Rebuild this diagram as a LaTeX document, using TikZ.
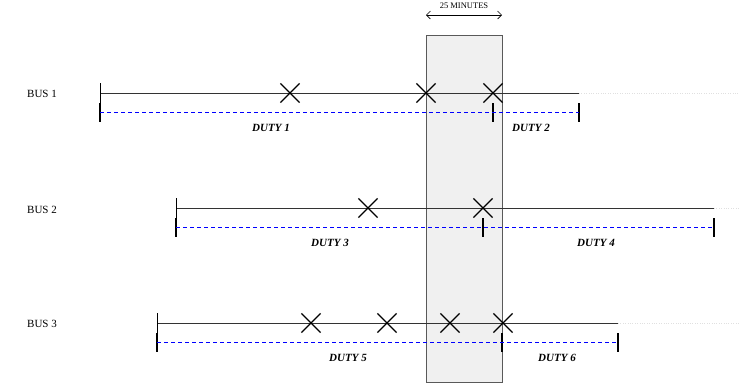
\documentclass[tikz,border=0pt]{standalone}
\usepackage{fontspec}
\setmainfont{Liberation Serif}
\usetikzlibrary{arrows.meta, shapes.misc}

\begin{document}
\begin{tikzpicture}[
    x=1pt, y=-1pt,
    window/.style={
        draw=black!65,
        fill=black!6,
        line width=0.8pt,
        inner sep=0pt,
        minimum width=76pt,
        minimum height=347pt,
        anchor=north west
    },
    span/.style={
        {Straight Barb[length=4pt]}-{Straight Barb[length=4pt]},
        line width=0.6pt
    },
    busline/.style={
        draw=black!80,
        line width=0.8pt
    },
    trail/.style={
        draw=black!12,
        dotted
    },
    dutyline/.style={
        draw=blue,
        line width=0.8pt,
        dash pattern=on 4pt off 3pt
    },
    stop/.style={
        cross out,
        draw,
        line width=1.2pt,
        minimum size=18pt,
        inner sep=0pt
    },
    bar/.style={
        fill=black,
        inner sep=0pt,
        minimum width=2.4pt,
        minimum height=19pt
    },
    buslabel/.style={
        font=\fontsize{11}{13}\selectfont
    },
    dutylabel/.style={
        font=\fontsize{11}{13}\selectfont\bfseries\itshape
    }
]

\useasboundingbox (0,0) rectangle (740,384);

% 25 minute window
\node[window] (win) at (426,35) {};
\coordinate (wl) at (426,15);
\coordinate (wr) at (502,15);
\draw[span] (wl) -- (wr);
\node[font=\fontsize{8.5}{10}\selectfont] (winlbl) at (464,6) {25 MINUTES};

% bus 1
\node[buslabel] (bus1) at (42,94) {BUS 1};
\coordinate (b1s) at (100,93);
\coordinate (b1e) at (579,93);
\coordinate (t1) at (740,93);
\draw[trail] (b1e) -- (t1);
\draw[busline] (b1s) -- (b1e);
\draw[line width=0.6pt] (b1s) ++(0,-10) -- ++(0,20);
\node[stop] (x11) at (290,93) {};
\node[stop] (x12) at (426,93) {};
\node[stop] (x13) at (493,93) {};
\node[bar] (d1a) at (100,112.5) {};
\node[bar] (d1b) at (493,112.5) {};
\node[bar] (d1c) at (579,112.5) {};
\draw[dutyline] (d1a.center) -- (d1c.center);
\node[dutylabel] (duty1) at (271,128) {DUTY 1};
\node[dutylabel] (duty2) at (531,128) {DUTY 2};

% bus 2
\node[buslabel] (bus2) at (42,210) {BUS 2};
\coordinate (b2s) at (176,208);
\coordinate (b2e) at (714,208);
\coordinate (t2) at (740,208);
\draw[trail] (b2e) -- (t2);
\draw[busline] (b2s) -- (b2e);
\draw[line width=0.6pt] (b2s) ++(0,-10) -- ++(0,20);
\node[stop] (x21) at (368,208) {};
\node[stop] (x22) at (483,208) {};
\node[bar] (d2a) at (176,227.5) {};
\node[bar] (d2b) at (483,227.5) {};
\node[bar] (d2c) at (714,227.5) {};
\draw[dutyline] (d2a.center) -- (d2c.center);
\node[dutylabel] (duty3) at (330,243) {DUTY 3};
\node[dutylabel] (duty4) at (596,243) {DUTY 4};

% bus 3
\node[buslabel] (bus3) at (42,324) {BUS 3};
\coordinate (b3s) at (157,323);
\coordinate (b3e) at (618,323);
\coordinate (t3) at (740,323);
\draw[trail] (b3e) -- (t3);
\draw[busline] (b3s) -- (b3e);
\draw[line width=0.6pt] (b3s) ++(0,-10) -- ++(0,20);
\node[stop] (x31) at (311,323) {};
\node[stop] (x32) at (387,323) {};
\node[stop] (x33) at (450,323) {};
\node[stop] (x34) at (503,323) {};
\node[bar] (d3a) at (157,342.5) {};
\node[bar] (d3b) at (502,342.5) {};
\node[bar] (d3c) at (618,342.5) {};
\draw[dutyline] (d3a.center) -- (d3c.center);
\node[dutylabel] (duty5) at (348,358) {DUTY 5};
\node[dutylabel] (duty6) at (557,358) {DUTY 6};

\end{tikzpicture}
\end{document}
